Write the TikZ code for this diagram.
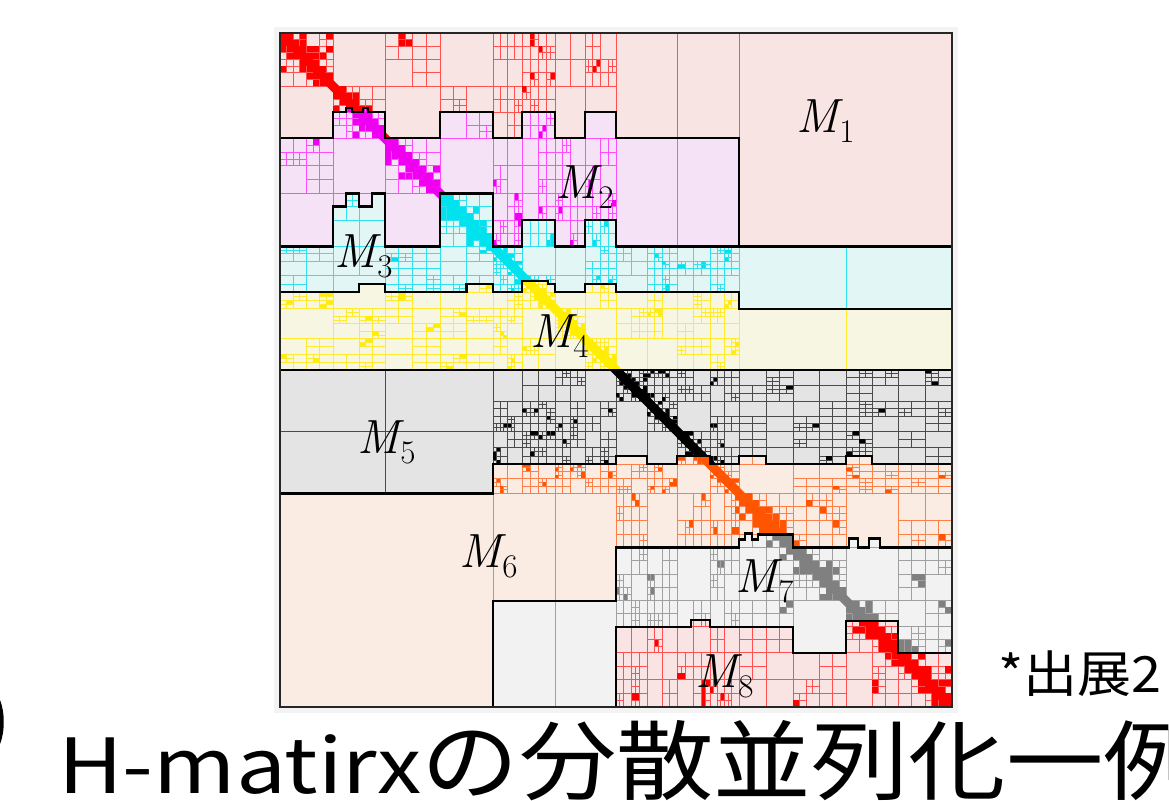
\documentclass[tikz,border=0pt]{standalone}
\usepackage{fontspec}
\newfontfamily\jpfont{Noto Sans CJK JP}
\definecolor{fA}{HTML}{F8E4E2}\definecolor{lA}{HTML}{FF5050}\definecolor{dA}{HTML}{FF0000}
\definecolor{fB}{HTML}{F6E2F6}\definecolor{lB}{HTML}{FF4CFF}\definecolor{dB}{HTML}{F000F0}
\definecolor{fC}{HTML}{E3F6F6}\definecolor{lC}{HTML}{30E2F0}\definecolor{dC}{HTML}{00E2EE}
\definecolor{fD}{HTML}{F7F6E3}\definecolor{lD}{HTML}{FFEA30}\definecolor{dD}{HTML}{FFEE00}
\definecolor{fE}{HTML}{E4E4E4}\definecolor{lE}{HTML}{4A4A4A}\definecolor{dE}{HTML}{000000}
\definecolor{fF}{HTML}{FAEBE3}\definecolor{lF}{HTML}{FF7F48}\definecolor{dF}{HTML}{FF5500}
\definecolor{fG}{HTML}{F2F2F2}\definecolor{lG}{HTML}{A0A0A0}\definecolor{dG}{HTML}{808080}
\definecolor{fH}{HTML}{F9E3E3}\definecolor{lH}{HTML}{FF5050}\definecolor{dH}{HTML}{FF0000}
\definecolor{frame}{HTML}{F3F3F3}

\def\setcut#1#2{\expandafter\def\csname hcut#1\endcsname{#2}}
\setcut{0}{0}\setcut{1}{53}\setcut{2}{105}\setcut{3}{160}\setcut{4}{213}\setcut{5}{242}
\setcut{6}{275}\setcut{7}{305}\setcut{8}{336}\setcut{9}{367}\setcut{10}{397}\setcut{11}{430}
\setcut{12}{459}\setcut{13}{513}\setcut{14}{566}\setcut{15}{618}\setcut{16}{672}
% forced leaves / refinements at level 4
\expandafter\def\csname hL-0-1\endcsname{}\expandafter\def\csname hL-1-0\endcsname{}
\expandafter\def\csname hL-1-2\endcsname{}\expandafter\def\csname hL-2-1\endcsname{}
\expandafter\def\csname hL-0-3\endcsname{}\expandafter\def\csname hL-3-0\endcsname{}
\expandafter\def\csname hL-2-3\endcsname{}\expandafter\def\csname hL-3-2\endcsname{}
\expandafter\def\csname hR-0-2\endcsname{}\expandafter\def\csname hR-1-3\endcsname{}
\expandafter\def\csname hR-2-0\endcsname{}

\newcommand\hpos[3]{%
  \pgfmathsetmacro\hu{#2*16/(2^#3)}%
  \pgfmathtruncatemacro\hs{floor(\hu)}%
  \ifnum\hs>15 \def\hs{15}\fi
  \pgfmathsetmacro\hf{\hu-\hs}%
  \edef\hlo{\csname hcut\hs\endcsname}%
  \edef\hhi{\csname hcut\the\numexpr\hs+1\relax\endcsname}%
  \pgfmathsetmacro#1{\hlo+\hf*(\hhi-\hlo)}%
}
\newcommand\hhash[3]{\pgfmathtruncatemacro\hh{mod(mod(#2*37,101)*7+mod(#3*53,103)*11+mod(mod(#2,61)*mod(#3,67),97)*13+#1*17,100)}}

\newcommand\hrec[3]{%
\begingroup
  \hpos\ra{#2}{#1}%
  \hpos\rb{\the\numexpr#2+1\relax}{#1}%
  \def\act{2}%
  \ifdim\rb pt<\bandlo pt\relax \def\act{0}\fi
  \ifdim\ra pt>\bandhi pt\relax \def\act{0}\fi
  \ifnum\act=2
    \pgfmathtruncatemacro\dd{abs(#2-#3)}%
    \hhash{#1}{#2}{#3}%
    \ifcase#1\relax
    \or
    \or \ifnum\dd>2 \def\act{1}\fi
    \or \pgfmathtruncatemacro\dtwo{abs(floor(#2/2)-floor(#3/2))}\ifnum\dtwo>1 \def\act{1}\fi
    \or \ifnum\dd=1 \ifnum\hh<50 \def\act{1}\fi\fi
        \ifnum\dd>1 \ifnum\hh<12 \def\act{1}\fi\fi
        \ifcsname hL-#2-#3\endcsname\def\act{1}\fi
        \ifcsname hR-#2-#3\endcsname\def\act{2}\fi
    \or \ifnum\dd>1 \ifnum\hh<60 \else\def\act{1}\fi\fi
    \or \ifnum\dd>1 \ifnum\hh<22 \else\def\act{1}\fi\fi
    \else \def\act{3}%
    \fi
  \fi
  \ifnum\act=1
    \hpos\ca{#3}{#1}\hpos\cb{\the\numexpr#3+1\relax}{#1}%
    \draw[hline] (\ca,\ra) rectangle (\cb,\rb);
  \fi
  \ifnum\act=3
    \hpos\ca{#3}{#1}\hpos\cb{\the\numexpr#3+1\relax}{#1}%
    \draw[hline] (\ca,\ra) rectangle (\cb,\rb);
    \def\dofill{0}%
    \ifnum\dd<2 \def\dofill{1}\else
      \ifnum\dd<4 \ifnum\hh<40 \def\dofill{1}\fi
      \else \ifnum\hh<18 \def\dofill{1}\fi\fi
    \fi
    \ifnum\dofill=1 \fill[hdark] (\ca,\ra) rectangle (\cb,\rb);\fi
  \fi
  \ifnum\act=2
    \edef\next{%
      \noexpand\hrec{\the\numexpr#1+1}{\the\numexpr2*#2}{\the\numexpr2*#3}%
      \noexpand\hrec{\the\numexpr#1+1}{\the\numexpr2*#2}{\the\numexpr2*#3+1}%
      \noexpand\hrec{\the\numexpr#1+1}{\the\numexpr2*#2+1}{\the\numexpr2*#3}%
      \noexpand\hrec{\the\numexpr#1+1}{\the\numexpr2*#2+1}{\the\numexpr2*#3+1}}%
    \next
  \fi
\endgroup}

\def\Bzero{(0,0) -- (672,0)}
\def\Bone{(0,105) -- (53,105) -- (53,79) -- (66,79) -- (66,75) -- (72,75) -- (72,79) -- (83,79) -- (83,75) -- (88,75) -- (88,79) -- (105,79) -- (105,105) -- (160,105) -- (160,79) -- (213,79) -- (213,105) -- (242,105) -- (242,79) -- (275,79) -- (275,105) -- (305,105) -- (305,79) -- (336,79) -- (336,105) -- (459,105) -- (459,213) -- (672,213)}
\def\Btwo{(0,213) -- (53,213) -- (53,173) -- (66,173) -- (66,160) -- (79,160) -- (79,173) -- (92,173) -- (92,160) -- (105,160) -- (105,213) -- (160,213) -- (160,160) -- (213,160) -- (213,213) -- (242,213) -- (242,186.5) -- (275,186.5) -- (275,213) -- (305,213) -- (305,186.5) -- (336,186.5) -- (336,213) -- (672,213)}
\def\Bthree{(0,258.5) -- (79,258.5) -- (79,250) -- (105,250) -- (105,258.5) -- (186.5,258.5) -- (186.5,250) -- (213,250) -- (213,258.5) -- (242,258.5) -- (242,247) -- (268,247) -- (268,250) -- (275,250) -- (275,258.5) -- (305,258.5) -- (305,250) -- (336,250) -- (336,258.5) -- (459,258.5) -- (459,275) -- (672,275)}
\def\Bfour{(0,336) -- (672,336)}
\def\Bfive{(0,459) -- (213,459) -- (213,430) -- (336,430) -- (336,422) -- (367,422) -- (367,430) -- (397,430) -- (397,422) -- (430,422) -- (430,430) -- (459,430) -- (459,422) -- (486,422) -- (486,430) -- (566,430) -- (566,422) -- (592,422) -- (592,430) -- (672,430)}
\def\Bsix{(0,672) -- (213,672) -- (213,566) -- (336,566) -- (336,513) -- (459,513) -- (459,505) -- (465,505) -- (465,499) -- (472,499) -- (472,505) -- (478,505) -- (478,500) -- (513,500) -- (513,513) -- (569,513) -- (569,504) -- (578,504) -- (578,513) -- (589,513) -- (589,504) -- (600,504) -- (600,513) -- (672,513)}
\def\Bseven{(0,672) -- (336,672) -- (336,592) -- (411,592) -- (411,585) -- (430,585) -- (430,592) -- (513,592) -- (513,618) -- (566,618) -- (566,586) -- (618,586) -- (618,618) -- (672,618)}

\newcommand\hband[6]{%
  \begin{scope}
    \clip #1 -- (672,672) -- (0,672) -- cycle;
    \fill[#2] (0,0) rectangle (672,672);
    \tikzset{hline/.style={draw=#3, line width=0.9pt}, hdark/.style={fill=#4}}%
    \def\bandlo{#5}\def\bandhi{#6}%
    \hrec{0}{0}{0}%
    \draw[#4, line width=9pt] (0,0) -- (672,672);
  \end{scope}}

\tikzset{
  bline/.style={line width=2.3pt, black, line join=miter},
  mlab/.style={anchor=base west, inner sep=0pt, font=\fontsize{48}{48}\selectfont\itshape},
}
\newcommand\lab[1]{M\kern1pt\raisebox{-10pt}{\fontsize{33}{33}\selectfont\upshape #1}}

\begin{document}
\begin{tikzpicture}[x=1pt,y=-1pt]
\useasboundingbox (0,0) rectangle (1169,800);
\fill[white] (0,0) rectangle (1169,800);
\fill[frame] (274,27) rectangle (958,713);
\begin{scope}[shift={(280,33)}, yscale=1.003]
  \hband{\Bzero}{fA}{lA}{dA}{0}{213}
  \hband{\Bone}{fB}{lB}{dB}{79}{213}
  \hband{\Btwo}{fC}{lC}{dC}{160}{275}
  \hband{\Bthree}{fD}{lD}{dD}{246}{336}
  \hband{\Bfour}{fE}{lE}{dE}{336}{459}
  \hband{\Bfive}{fF}{lF}{dF}{422}{672}
  \hband{\Bsix}{fG}{lG}{dG}{499}{672}
  \hband{\Bseven}{fH}{lH}{dH}{585}{672}
  \draw[bline] \Bone;
  \draw[bline] \Btwo;
  \draw[bline] \Bthree;
  \draw[bline] \Bfour;
  \draw[bline] \Bfive;
  \draw[bline] \Bsix;
  \draw[bline] \Bseven;
  \draw[line width=2pt, black!85] (0,0) rectangle (672,672);
\end{scope}
\node[mlab] (m1) at (796,132) {\lab{1}};
\node[mlab] (m2) at (555,198) {\lab{2}};
\node[mlab] (m3) at (334,267) {\lab{3}};
\node[mlab] (m4) at (530,347) {\lab{4}};
\node[mlab] (m5) at (357,453) {\lab{5}};
\node[mlab] (m6) at (459,567) {\lab{6}};
\node[mlab] (m7) at (735,592) {\lab{7}};
\node[mlab] (m8) at (695,687) {\lab{8}};
\node[anchor=base west, inner sep=0pt] (note) at (998,692) {\scalebox{1.08}[1]{\fontsize{50}{50}\jpfont *出展2}};
\node[anchor=base west, inner sep=0pt] (title) at (58,793) {\scalebox{1.17}[1]{\fontsize{76}{76}\jpfont H-matirx}\scalebox{1.12}[1]{\fontsize{87}{87}\jpfont の分散並列化一例}};
\fill[black] (0,700) .. controls (5,712) and (5,732) .. (0,744) -- cycle;
\end{tikzpicture}
\end{document}
